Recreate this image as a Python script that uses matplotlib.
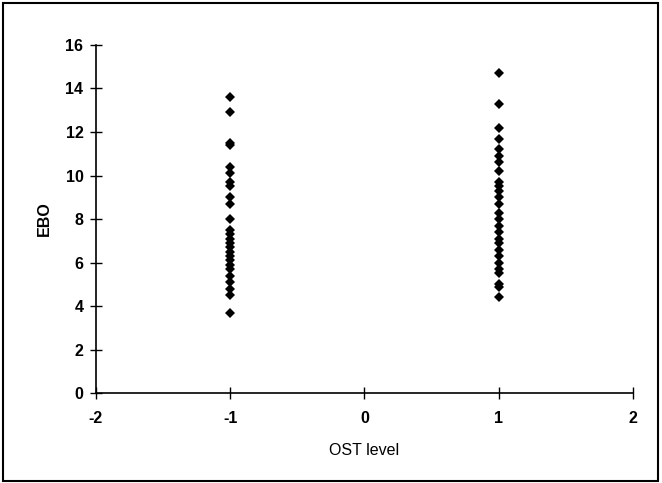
import numpy as np
import matplotlib.pyplot as plt
from matplotlib.patches import Rectangle

plt.rcParams['font.family'] = ['Liberation Sans', 'DejaVu Sans']
plt.rcParams['axes.unicode_minus'] = False

# EBO values, one list per OST level
ebo_low = [13.6, 12.9, 11.5, 11.4, 10.4, 10.1, 9.7, 9.5, 9.0, 8.7, 8.0, 7.5, 7.3,
           7.1, 6.9, 6.7, 6.5, 6.3, 6.1, 5.9, 5.7, 5.4, 5.1, 4.8, 4.5, 3.7]
ebo_high = [14.7, 13.3, 12.2, 11.7, 11.2, 10.9, 10.6, 10.2, 9.7, 9.5, 9.3, 9.0, 8.7,
            8.3, 8.0, 7.7, 7.4, 7.1, 6.9, 6.6, 6.3, 6.0, 5.7, 5.5, 5.0, 4.9, 4.4]
ost_levels = [-1, 1]
xticks = [-2, -1, 0, 1, 2]
yticks = [0, 2, 4, 6, 8, 10, 12, 14, 16]

fig = plt.figure(figsize=(6.62, 4.83), dpi=100)
ax = fig.add_axes([0.145, 0.186, 0.811, 0.721])

for lvl, vals in zip(ost_levels, [ebo_low, ebo_high]):
    ax.plot(np.full(len(vals), lvl), vals, 'D', color='black', ms=5, mew=0)

ax.set_xlim(-2, 2)
ax.set_ylim(0, 16)
ax.set_xticks(xticks)
ax.set_yticks(yticks)
ax.spines['top'].set_visible(False)
ax.spines['right'].set_visible(False)
ax.spines['left'].set_linewidth(1.2)
ax.spines['bottom'].set_linewidth(1.2)
ax.tick_params(direction='inout', length=8, width=1, labelsize=11.5)
ax.tick_params(axis='x', pad=9)
ax.tick_params(axis='y', pad=5)
for lab in ax.get_xticklabels() + ax.get_yticklabels():
    lab.set_fontweight('bold')

ax.set_xlabel('OST level', fontsize=11.5, labelpad=12)
ax.set_ylabel('EBO', fontsize=11.5, fontweight='bold', labelpad=10)

fig.patches.append(Rectangle((0.004, 0.004), 0.99, 0.99, transform=fig.transFigure,
                             fill=False, edgecolor='black', linewidth=1.5))

fig.savefig('out.png', dpi=100)
